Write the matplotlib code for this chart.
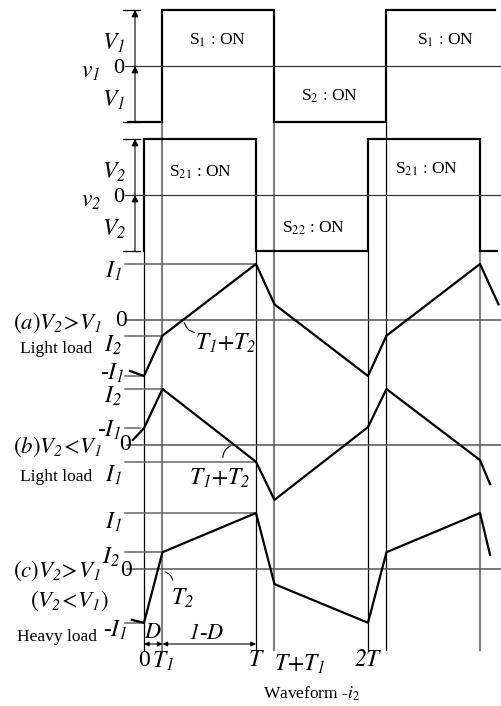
import numpy as np
import matplotlib
matplotlib.use("Agg")
import matplotlib.pyplot as plt

plt.rcParams['font.family'] = 'Liberation Serif'
# italic symbols with italic subscript digits; \mathsf gives the upright face
plt.rcParams['mathtext.fontset'] = 'custom'
plt.rcParams['mathtext.rm'] = 'STIXGeneral:italic'
plt.rcParams['mathtext.it'] = 'STIXGeneral:italic'
plt.rcParams['mathtext.sf'] = 'STIXGeneral'
plt.rcParams['mathtext.bf'] = 'STIXGeneral:bold'

W, H = 501, 706
X0, TPX = 144, 112          # pixel of t=0 and pixels per period
AMP = 56                    # pixels per unit amplitude

# time axis in units of T
T1 = 0.165
t_knots = [0, T1, 1, 1 + T1, 2, 2 + T1, 3]

# switching edges of the bridge voltages
v1_edges = [T1, 1 + T1, 2 + T1]
v2_edges = [0, 1, 2, 3]

# inductor current (normalised), values at t_knots
ia = [-1.0, -0.28, 1.0, 0.28, -1.0, -0.28, 1.0]
ib = [0.3, 1.0, -0.3, -0.98, 0.32, 1.0, -0.27]
ic = [-0.96, 0.3, 1.0, -0.27, -0.96, 0.3, 1.0]
# lead-in and trailing points (t, value)
ia_ends = [(-0.125, -0.91), (3.165, 0.28)]
ib_ends = [(-0.1, 0.09), (3.09, -0.7)]
ic_ends = [(-0.107, -0.91), (3.09, 0.25)]

# reference levels per current panel: (value, end of line in t)
ia_levels = [(1.0, 1), (-0.28, T1), (-1.0, 0)]
ib_levels = [(1.0, T1), (0.3, -0.04), (-0.3, 1)]
ic_levels = [(1.0, 1), (0.3, T1), (-0.96, 0)]

tick_pos = [0, T1, 1, 1 + T1, 2]
tick_lbl = ['0', r'$T_1$', r'$T$', r'$T\mathsf{+}T_1$', r'$2T$']

XMIN, XMAX = -X0 / TPX, (W - X0) / TPX
GRAY = '#808080'


def tx(px):
    return (px - X0) / TPX


fig = plt.figure(figsize=(W / 100, H / 100), dpi=100)


def panel(zero_px, span=1.35):
    ax = fig.add_axes([0, 1 - (zero_px + span * AMP) / H, 1, 2 * span * AMP / H])
    ax.set_xlim(XMIN, XMAX)
    ax.set_ylim(-span, span)
    ax.axis('off')
    ax.patch.set_alpha(0)
    return ax


def square(edges, start, end):
    ts, vs, lvl = [start], [-1], -1
    for e in edges:
        ts += [e, e]
        vs += [lvl, -lvl]
        lvl = -lvl
    ts.append(end)
    vs.append(lvl)
    return ts, vs


def lbl(ax, x, y, s, size=15, **kw):
    ax.text(x, y, s, fontsize=size, ha=kw.pop('ha', 'center'), va=kw.pop('va', 'center'), **kw)


# overlay for the time guides and the time axis
base = fig.add_axes([0, 0, 1, 1])
base.set_xlim(XMIN, XMAX)
base.set_ylim(H, 0)
base.axis('off')

for t, c, y0 in [(0, 'k', 252), (T1, GRAY, 122), (1, 'k', 252), (1 + T1, GRAY, 122),
                 (2, 'k', 252), (2 + T1, 'k', 122), (3, GRAY, 252)]:
    base.plot([t, t], [y0, 650], color=c, lw=1.5 if c == GRAY else 0.9, zorder=1)

# voltage panels
for zero, edges, start, end, sub, texts in [
        (66, v1_edges, tx(128), 3.13, '1',
         [(tx(218), 0.46, r'S$_\mathsf{1}$ : ON'), (tx(446), 0.46, r'S$_\mathsf{1}$ : ON'),
          (tx(330), -0.54, r'S$_\mathsf{2}$ : ON')]),
        (195, v2_edges, 0, 3.15, '2',
         [(tx(201), 0.41, r'S$_\mathsf{21}$ : ON'), (tx(427), 0.45, r'S$_\mathsf{21}$ : ON'),
          (tx(314), -0.59, r'S$_\mathsf{22}$ : ON')])]:
    ax = panel(zero)
    ts, vs = square(edges, start, end)
    ax.plot(ts, vs, color='k', lw=1.6, clip_on=False, solid_joinstyle='miter')
    ax.plot([tx(125), XMAX], [0, 0], color='#333333', lw=0.9)
    for v in (1, -1):
        ax.plot([tx(123), tx(140)], [v, v], color='k', lw=0.9)
    ta = tx(135)
    for a, b in [(-1, 0), (0, 1)]:
        ax.annotate('', xy=(ta, b), xytext=(ta, a),
                    arrowprops=dict(arrowstyle='-|>', color='k', lw=0.8,
                                    mutation_scale=10, shrinkA=0, shrinkB=0))
    lbl(ax, tx(114), 0.40, rf'$V_{sub}$', 17)
    lbl(ax, tx(114), -0.62, rf'$V_{sub}$', 17)
    lbl(ax, tx(91), -0.11, rf'$v_{sub}$', 17)
    lbl(ax, tx(118.5), -0.05, '0', 16)
    for x, y, s in texts:
        lbl(ax, x, y, s, 12.5)

# current panels
panels = [
    (320, ia, ia_ends, ia_levels,
     [(tx(113), 0.875, r'$I_1$'), (tx(121), 0.0, '0'),
      (tx(113), -0.46, r'$I_2$'), (tx(112), -0.95, r'-$I_1$')],
     [(tx(57), -0.05, r'$\mathsf{(}a\mathsf{)}V_2\!\mathsf{>}\!V_1$', 16.5),
      (tx(56), -0.52, 'Light load', 12.5)]),
    (445, ib, ib_ends, ib_levels,
     [(tx(113), 0.86, r'$I_2$'), (tx(109), 0.27, r'-$I_1$'),
      (tx(125), 0.0, '0'), (tx(113), -0.54, r'$I_1$')],
     [(tx(57), -0.04, r'$\mathsf{(}b\mathsf{)}V_2\!\mathsf{<}\!V_1$', 16.5),
      (tx(56), -0.57, 'Light load', 12.5)]),
    (569, ic, ic_ends, ic_levels,
     [(tx(113), 0.84, r'$I_1$'), (tx(111), 0.21, r'$I_2$'),
      (tx(126), -0.03, '0'), (tx(115), -1.09, r'-$I_1$')],
     [(tx(57), -0.04, r'$\mathsf{(}c\mathsf{)}V_2\!\mathsf{>}\!V_1$', 16.5),
      (tx(69), -0.57, r'$\mathsf{(}V_2\!\mathsf{<}\!V_1\mathsf{)}$', 16.5),
      (tx(57), -1.21, 'Heavy load', 12.5)]),
]
cur_axes = []
for zero, vals, ends, levels, lvl_texts, desc in panels:
    ax = panel(zero)
    cur_axes.append(ax)
    ts = [ends[0][0]] + t_knots + [ends[1][0]]
    vs = [ends[0][1]] + vals + [ends[1][1]]
    ax.plot(ts, vs, color='k', lw=1.6, clip_on=False, zorder=3)
    ax.plot([tx(127), XMAX], [0, 0], color='#555555', lw=1.1, zorder=2)
    for v, tend in levels:
        ax.plot([tx(125), tend], [v, v], color='#666666', lw=1.1, zorder=2)
    for x, y, s in lvl_texts:
        lbl(ax, x, y, s, 17)
    for x, y, s, sz in desc:
        lbl(ax, x, y, s, sz)

# interval annotations
ax_a, ax_b, ax_c = cur_axes
ax_a.annotate('', xy=(tx(184), 0), xytext=(tx(197), -0.23),
              arrowprops=dict(arrowstyle='-', lw=0.8, color='k', connectionstyle='arc3,rad=-0.4'))
lbl(ax_a, tx(226), -0.41, r'$T_1\mathsf{+}T_2$', 17)
ax_b.annotate('', xy=(tx(233), 0), xytext=(tx(223), -0.27),
              arrowprops=dict(arrowstyle='-', lw=0.8, color='k', connectionstyle='arc3,rad=-0.4'))
lbl(ax_b, tx(220), -0.6, r'$T_1\mathsf{+}T_2$', 17)
ax_c.annotate('', xy=(T1, -0.04), xytext=(tx(173), -0.25),
              arrowprops=dict(arrowstyle='-', lw=0.8, color='k', connectionstyle='arc3,rad=0.4'))
lbl(ax_c, tx(182), -0.52, r'$T_2$', 17)

# duty-cycle arrows and time labels
for a, b in [(0, T1), (T1, 1)]:
    base.annotate('', xy=(a, 644), xytext=(b, 644),
                  arrowprops=dict(arrowstyle='<|-|>', color='k', lw=0.8,
                                  mutation_scale=7, shrinkA=0, shrinkB=0))
lbl(base, T1 / 2, 634, r'$D$', 16)
lbl(base, tx(206), 634, r'$1$-$D$', 16)

for t, s in zip(tick_pos, tick_lbl):
    if t == 1 + T1:
        base.text(t, 664, s, fontsize=17, ha='left', va='center')
    else:
        lbl(base, t, 661, s, 17)

lbl(base, tx(312), 694, r'Waveform -$i_\mathsf{2}$', 12.5)

fig.savefig('out.png', dpi=100)
